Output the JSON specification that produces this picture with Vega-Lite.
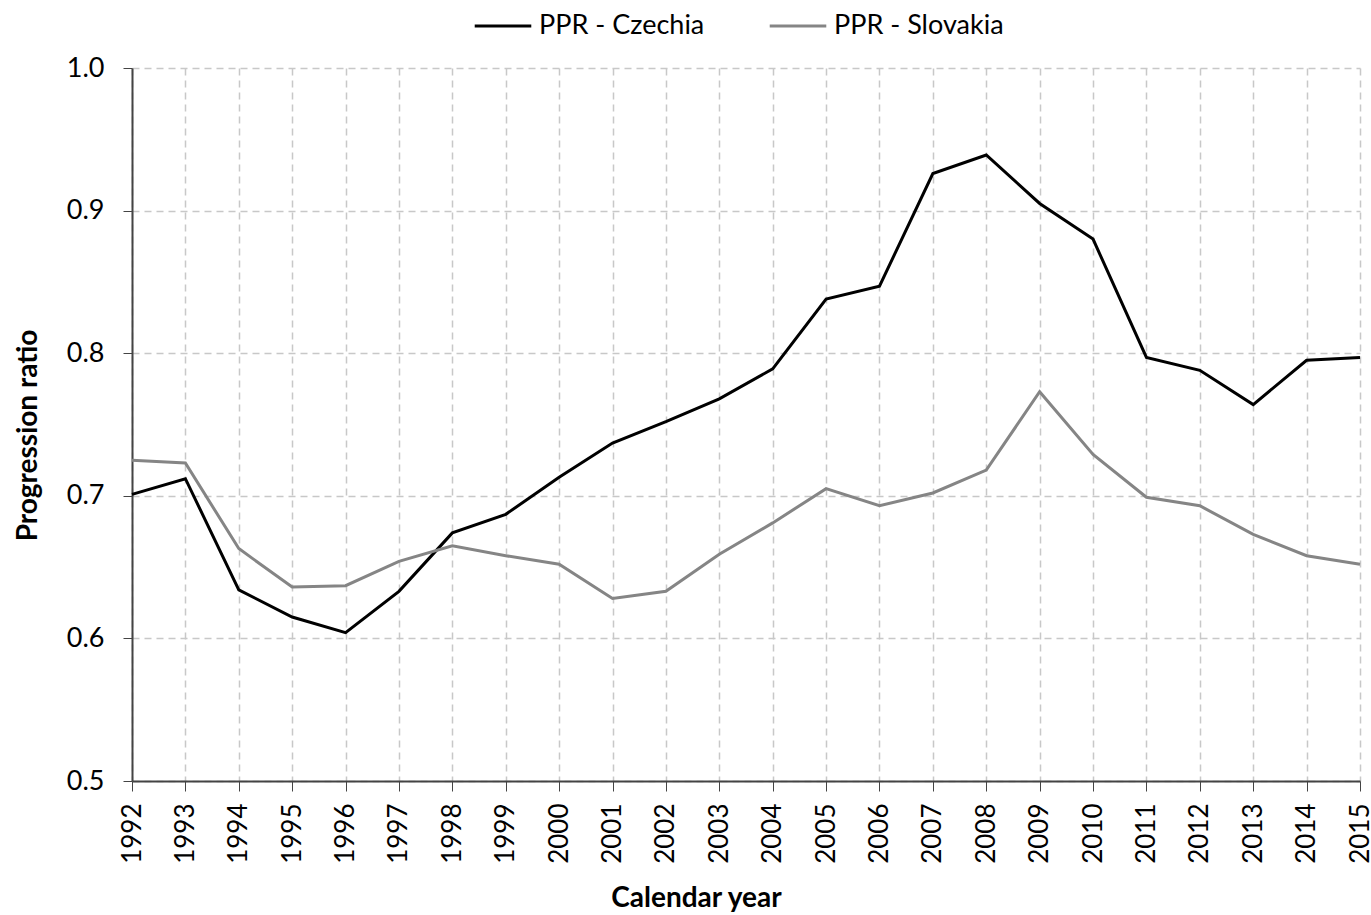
{
  "$schema": "https://vega.github.io/schema/vega-lite/v6.json",
  "width": 1228,
  "height": 713,
  "autosize": "none",
  "padding": {"left": 132, "top": 68, "right": 11, "bottom": 134},
  "background": "white",
  "config": {
    "font": "Lato",
    "view": {"stroke": null}
  },
  "data": {
    "values": [
      {"year": 1992, "series": "PPR - Czechia", "value": 0.701},
      {"year": 1993, "series": "PPR - Czechia", "value": 0.712},
      {"year": 1994, "series": "PPR - Czechia", "value": 0.634},
      {"year": 1995, "series": "PPR - Czechia", "value": 0.615},
      {"year": 1996, "series": "PPR - Czechia", "value": 0.604},
      {"year": 1997, "series": "PPR - Czechia", "value": 0.633},
      {"year": 1998, "series": "PPR - Czechia", "value": 0.674},
      {"year": 1999, "series": "PPR - Czechia", "value": 0.687},
      {"year": 2000, "series": "PPR - Czechia", "value": 0.713},
      {"year": 2001, "series": "PPR - Czechia", "value": 0.737},
      {"year": 2002, "series": "PPR - Czechia", "value": 0.752},
      {"year": 2003, "series": "PPR - Czechia", "value": 0.768},
      {"year": 2004, "series": "PPR - Czechia", "value": 0.789},
      {"year": 2005, "series": "PPR - Czechia", "value": 0.838},
      {"year": 2006, "series": "PPR - Czechia", "value": 0.847},
      {"year": 2007, "series": "PPR - Czechia", "value": 0.926},
      {"year": 2008, "series": "PPR - Czechia", "value": 0.939},
      {"year": 2009, "series": "PPR - Czechia", "value": 0.905},
      {"year": 2010, "series": "PPR - Czechia", "value": 0.880},
      {"year": 2011, "series": "PPR - Czechia", "value": 0.797},
      {"year": 2012, "series": "PPR - Czechia", "value": 0.788},
      {"year": 2013, "series": "PPR - Czechia", "value": 0.764},
      {"year": 2014, "series": "PPR - Czechia", "value": 0.795},
      {"year": 2015, "series": "PPR - Czechia", "value": 0.797},
      {"year": 1992, "series": "PPR - Slovakia", "value": 0.725},
      {"year": 1993, "series": "PPR - Slovakia", "value": 0.723},
      {"year": 1994, "series": "PPR - Slovakia", "value": 0.663},
      {"year": 1995, "series": "PPR - Slovakia", "value": 0.636},
      {"year": 1996, "series": "PPR - Slovakia", "value": 0.637},
      {"year": 1997, "series": "PPR - Slovakia", "value": 0.654},
      {"year": 1998, "series": "PPR - Slovakia", "value": 0.665},
      {"year": 1999, "series": "PPR - Slovakia", "value": 0.658},
      {"year": 2000, "series": "PPR - Slovakia", "value": 0.652},
      {"year": 2001, "series": "PPR - Slovakia", "value": 0.628},
      {"year": 2002, "series": "PPR - Slovakia", "value": 0.633},
      {"year": 2003, "series": "PPR - Slovakia", "value": 0.659},
      {"year": 2004, "series": "PPR - Slovakia", "value": 0.681},
      {"year": 2005, "series": "PPR - Slovakia", "value": 0.705},
      {"year": 2006, "series": "PPR - Slovakia", "value": 0.693},
      {"year": 2007, "series": "PPR - Slovakia", "value": 0.702},
      {"year": 2008, "series": "PPR - Slovakia", "value": 0.718},
      {"year": 2009, "series": "PPR - Slovakia", "value": 0.773},
      {"year": 2010, "series": "PPR - Slovakia", "value": 0.729},
      {"year": 2011, "series": "PPR - Slovakia", "value": 0.699},
      {"year": 2012, "series": "PPR - Slovakia", "value": 0.693},
      {"year": 2013, "series": "PPR - Slovakia", "value": 0.673},
      {"year": 2014, "series": "PPR - Slovakia", "value": 0.658},
      {"year": 2015, "series": "PPR - Slovakia", "value": 0.652}
    ]
  },
  "mark": {"type": "line", "strokeWidth": 3},
  "encoding": {
    "x": {
      "field": "year",
      "type": "quantitative",
      "scale": {"domain": [1992, 2015], "nice": false, "zero": false},
      "axis": {
        "title": "Calendar year",
        "values": [1992,1993,1994,1995,1996,1997,1998,1999,2000,2001,2002,2003,2004,2005,2006,2007,2008,2009,2010,2011,2012,2013,2014,2015],
        "format": "d",
        "labelAngle": 270,
        "labelAlign": "right",
        "labelBaseline": "middle",
        "labelFontSize": 26,
        "labelColor": "#000",
        "labelPadding": 12,
        "labelFlush": false,
        "labelOverlap": false,
        "tickSize": 10,
        "tickColor": "#444",
        "domainColor": "#444",
        "domainWidth": 2,
        "grid": true,
        "gridColor": "#c8c8c8",
        "gridDash": [7, 5],
        "gridWidth": 1.5,
        "titleFontSize": 28,
        "titleFontWeight": "bold",
        "titleColor": "#000",
        "titleX": 564,
        "titleY": 117,
        "titleAlign": "center",
        "titleBaseline": "middle"
      }
    },
    "y": {
      "field": "value",
      "type": "quantitative",
      "scale": {"domain": [0.5, 1.0], "nice": false, "zero": false},
      "axis": {
        "title": "Progression ratio",
        "values": [0.5, 0.6, 0.7, 0.8, 0.9, 1.0],
        "format": ".1f",
        "labelFontSize": 27,
        "labelColor": "#000",
        "labelPadding": 19,
        "tickSize": 9,
        "tickColor": "#444",
        "domainColor": "#444",
        "domainWidth": 2,
        "grid": true,
        "gridColor": "#c8c8c8",
        "gridDash": [7, 5],
        "gridWidth": 1.5,
        "titleFontSize": 28,
        "titleFontWeight": "bold",
        "titleColor": "#000",
        "titleX": -104,
        "titleY": 367,
        "titleAlign": "center",
        "titleBaseline": "middle"
      }
    },
    "color": {
      "field": "series",
      "type": "nominal",
      "scale": {"domain": ["PPR - Czechia", "PPR - Slovakia"], "range": ["#000000", "#858585"]},
      "legend": {
        "title": null,
        "orient": "none",
        "direction": "horizontal",
        "legendX": 341,
        "legendY": -72,
        "symbolType": "stroke",
        "symbolSize": 3200,
        "symbolStrokeWidth": 3,
        "labelFontSize": 27,
        "labelLimit": 400,
        "labelColor": "#000",
        "labelOffset": 6,
        "columnPadding": 58
      }
    }
  }
}
